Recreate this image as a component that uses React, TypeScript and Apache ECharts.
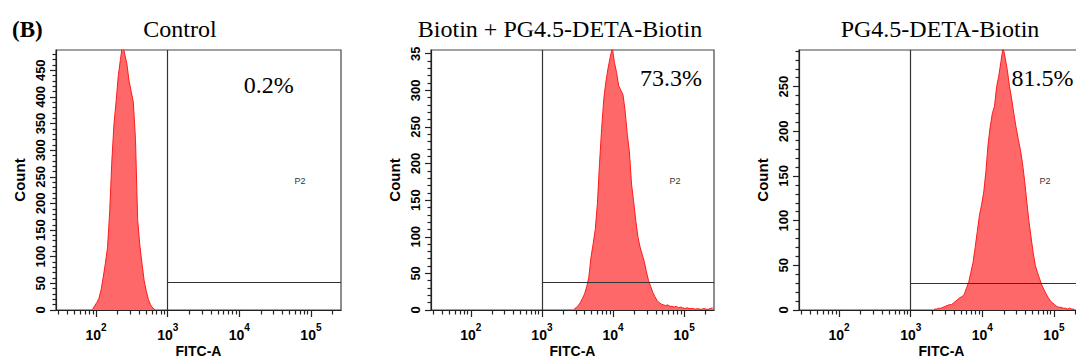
import React, { useEffect, useRef } from 'react';
import * as echarts from 'echarts';

// ---------- data ----------
const panelTitles = ['Control', 'Biotin + PG4.5-DETA-Biotin', 'PG4.5-DETA-Biotin'];
const percentLabels = ['0.2%', '73.3%', '81.5%'];
const gateName = 'P2';
const figureLabel = '(B)';
const xAxisName = 'FITC-A';
const yAxisName = 'Count';

// x axis in decades (log10 of FITC-A)
const xMinDecade = 1.44;
const xMaxDecade = 5.42;
const decadeTicks = [2, 3, 4, 5];

// histogram bins (log10 width 0.03)
const binStep = 0.03;
const binStarts = [1.95, 3.45, 3.33];
const controlCounts = [1, 8, 14, 22, 38, 62, 88, 118, 185, 280, 350, 392, 440, 470, 500, 480, 462, 430, 410, 390, 320, 170, 122, 88, 56, 36, 20, 10, 4, 1];
const biotinPgCounts = [1, 3, 6, 10, 16, 22, 32, 45, 72, 90, 110, 145, 200, 248, 288, 312, 330, 345, 358, 338, 324, 306, 300, 294, 272, 240, 216, 172, 148, 122, 100, 86, 76, 66, 52, 40, 32, 24, 18, 13, 10, 8, 7, 6, 7, 5, 5, 4, 5, 3, 4, 3, 2, 3, 2, 2, 2, 1, 2, 1, 1, 2, 1, 1, 2, 3];
const pgCounts = [1, 1, 2, 2, 3, 4, 5, 6, 6, 8, 10, 12, 14, 15, 18, 25, 31, 42, 53, 70, 88, 106, 118, 132, 155, 185, 205, 220, 228, 250, 262, 278, 294, 282, 268, 250, 236, 220, 205, 192, 180, 165, 145, 122, 100, 82, 64, 50, 42, 35, 28, 23, 18, 14, 10, 8, 6, 4, 3, 3, 2, 2, 1, 2, 1, 1];
const panelCounts = [controlCounts, biotinPgCounts, pgCounts];

const yMaxes = [488, 355, 291];
const yTickLabels = [
  [0, 50, 100, 150, 200, 250, 300, 350, 400, 450],
  [0, 50, 100, 150, 200, 250, 300, 350],
  [0, 50, 100, 150, 200, 250],
];
const gateX = 3; // 10^3
const gateY = [52, 38, 30];

// ---------- styling / layout ----------
const fontSans = '"Liberation Sans", Arial, Helvetica, sans-serif';
const fontSerif = '"Liberation Serif", "Times New Roman", Times, serif';
const grids = [
  { left: 56, top: 50, width: 285, height: 260 },
  { left: 431, top: 50, width: 283, height: 260 },
  { left: 799, top: 50, width: 285, height: 260 },
];
const titlePos = [[180, 29], [560, 29], [940, 29]];
const percentPos = [[268.7, 85], [671, 77.5], [1042.5, 77.5]];
const gateNamePos = [[300, 181], [675, 181], [1045, 181]];

function minorDecadeTicks(): number[] {
  const out: number[] = [];
  for (let n = 1; n <= 5; n++) {
    for (let k = 2; k <= 9; k++) {
      const v = Math.log10(k) + n;
      if (v >= xMinDecade && v <= xMaxDecade) out.push(+v.toFixed(4));
    }
  }
  return out;
}

function minorCountTicks(max: number): number[] {
  const out: number[] = [];
  for (let v = 10; v <= max; v += 10) if (v % 50 !== 0) out.push(v);
  return out;
}

function buildOption() {
  const xAxis: any[] = [];
  const yAxis: any[] = [];
  const series: any[] = [];
  const minorX = minorDecadeTicks();
  const axisColor = '#222';

  grids.forEach((g, i) => {
    xAxis.push({
      type: 'value', gridIndex: i, min: xMinDecade, max: xMaxDecade, position: 'bottom',
      axisLine: { show: true, onZero: false, lineStyle: { color: axisColor, width: 1.2 } },
      axisTick: { show: true, customValues: decadeTicks, length: 7, lineStyle: { color: axisColor, width: 1.2 } },
      axisLabel: {
        show: true, customValues: decadeTicks, margin: 12,
        formatter: (v: number) => `{b|10}{s|${Math.round(v)}}`,
        rich: {
          b: { fontSize: 14, fontWeight: 'bold', fontFamily: fontSans, color: '#000', lineHeight: 20, verticalAlign: 'bottom' },
          s: { fontSize: 10, fontWeight: 'bold', fontFamily: fontSans, color: '#000', lineHeight: 9, verticalAlign: 'top' },
        },
      },
      splitLine: { show: false },
      name: xAxisName, nameLocation: 'middle', nameGap: 34, nameMoveOverlap: false,
      nameTextStyle: { fontSize: 14, fontWeight: 'bold', fontFamily: fontSans, color: '#000' },
    });
    xAxis.push({
      type: 'value', gridIndex: i, min: xMinDecade, max: xMaxDecade, position: 'bottom',
      axisLine: { show: false },
      axisTick: { show: true, customValues: minorX, length: 4.5, lineStyle: { color: axisColor, width: 1.2 } },
      axisLabel: { show: false },
      splitLine: { show: false },
    });
    yAxis.push({
      type: 'value', gridIndex: i, min: 0, max: yMaxes[i], position: 'left',
      axisLine: { show: true, onZero: false, lineStyle: { color: axisColor, width: 1.2 } },
      axisTick: { show: true, customValues: yTickLabels[i], length: 6, lineStyle: { color: axisColor, width: 1.2 } },
      axisLabel: {
        show: true, customValues: yTickLabels[i], rotate: 90, margin: 9,
        fontSize: 13, fontWeight: 'bold', fontFamily: fontSans, color: '#000',
        formatter: (v: number) => (v + 10 > yMaxes[i] ? String(v).slice(0, 2) : String(v)),
      },
      splitLine: { show: false },
      name: yAxisName, nameLocation: 'middle', nameGap: 29, nameMoveOverlap: false,
      nameTextStyle: { fontSize: 15, fontWeight: 'bold', fontFamily: fontSans, color: '#000' },
    });
    yAxis.push({
      type: 'value', gridIndex: i, min: 0, max: yMaxes[i], position: 'left',
      axisLine: { show: false },
      axisTick: { show: true, customValues: minorCountTicks(yMaxes[i]), length: 3.5, lineStyle: { color: axisColor, width: 1.2 } },
      axisLabel: { show: false },
      splitLine: { show: false },
    });

    const data = panelCounts[i].map((c, k) => [+(binStarts[i] + k * binStep).toFixed(3), c]);
    series.push({
      type: 'line', xAxisIndex: 2 * i, yAxisIndex: 2 * i, data,
      symbol: 'none', clip: true, silent: true,
      lineStyle: { color: '#FF1A1A', width: 1 },
      areaStyle: { color: '#FF6868', opacity: 1, origin: 'start' },
      markLine: {
        silent: true, symbol: ['none', 'none'], animation: false,
        label: { show: false },
        emphasis: { disabled: true },
        lineStyle: { color: '#333', width: 1.2, type: 'solid' },
        data: [
          [{ coord: [gateX, 0] }, { coord: [gateX, yMaxes[i]] }],
          [{ coord: [gateX, gateY[i]] }, { coord: [xMaxDecade, gateY[i]] }],
        ],
      },
    });
  });

  const texts: any[] = [];
  texts.push({
    type: 'text', x: 12, y: 29, silent: true,
    style: { text: figureLabel, fontSize: 23, fontWeight: 'bold', fontFamily: fontSerif, fill: '#000', textAlign: 'left', textVerticalAlign: 'middle', align: 'left', verticalAlign: 'middle' },
  });
  panelTitles.forEach((t, i) => {
    texts.push({
      type: 'text', x: titlePos[i][0], y: titlePos[i][1], silent: true,
      style: { text: t, fontSize: 24, fontFamily: fontSerif, fill: '#000', textAlign: 'center', textVerticalAlign: 'middle', align: 'center', verticalAlign: 'middle' },
    });
    texts.push({
      type: 'text', x: percentPos[i][0], y: percentPos[i][1], silent: true,
      style: { text: percentLabels[i], fontSize: 24, fontFamily: fontSerif, fill: '#000', textAlign: 'center', textVerticalAlign: 'middle', align: 'center', verticalAlign: 'middle' },
    });
    texts.push({
      type: 'text', x: gateNamePos[i][0], y: gateNamePos[i][1], silent: true,
      style: { text: gateName, fontSize: 9, fontFamily: fontSans, fill: '#333', textAlign: 'center', textVerticalAlign: 'middle', align: 'center', verticalAlign: 'middle' },
    });
  });

  return {
    animation: false,
    backgroundColor: '#fff',
    grid: grids.map((g) => ({ ...g, show: true, borderColor: '#444', borderWidth: 1.2, backgroundColor: 'transparent', containLabel: false, outerBoundsMode: 'none' })),
    xAxis,
    yAxis,
    series,
    graphic: { elements: texts },
  };
}

export default function App() {
  const ref = useRef<HTMLDivElement>(null);
  useEffect(() => {
    document.body.style.margin = '0';
    if (!ref.current) return;
    const chart = echarts.init(ref.current, null, { renderer: 'svg' });
    chart.setOption(buildOption() as any);
    return () => chart.dispose();
  }, []);
  return <div ref={ref} style={{ width: 1076, height: 360 }} />;
}
